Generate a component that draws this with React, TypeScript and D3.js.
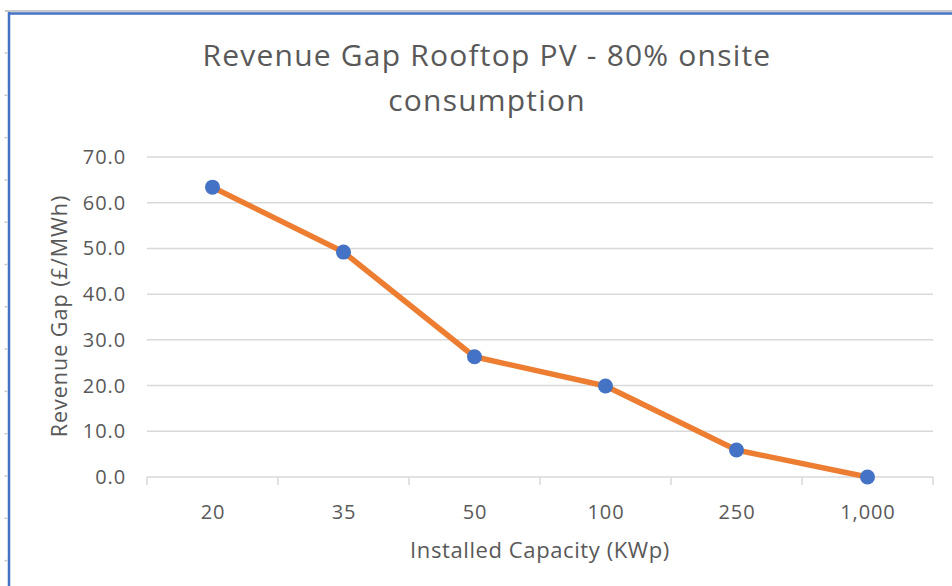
import React from "react";
import * as d3 from "d3";

const categories = ["20", "35", "50", "100", "250", "1,000"];
const revenueGap = [63.4, 49.2, 26.3, 19.9, 5.9, 0.0];
const yTicks = [0, 10, 20, 30, 40, 50, 60, 70];
const titleLines = ["Revenue Gap Rooftop PV - 80% onsite", "consumption"];
const xTitle = "Installed Capacity (KWp)";
const yTitle = "Revenue Gap (£/MWh)";

const W = 952;
const H = 586;
const FONT = "'Open Sans', 'Liberation Sans', sans-serif";
const TEXT = "#595959";

export default function App() {
  const x = d3.scaleBand<string>().domain(categories).range([147, 933]).padding(0);
  const y = d3.scaleLinear().domain([0, 70]).range([477, 157]);
  const cx = (i: number) => (x(categories[i]) as number) + x.bandwidth() / 2;
  const line = d3
    .line<number>()
    .x((_, i) => cx(i))
    .y((d) => y(d));

  const edgeTicks = d3.range(13).map((i) => 53 + i * 42.3);
  const boundaries = categories.map((c) => x(c) as number).concat([933]);

  return (
    <svg
      width={W}
      height={H}
      style={{ position: "fixed", left: 0, top: 0, background: "#fff" }}
      fontFamily={FONT}
    >
      <rect x={0} y={0} width={W} height={H} fill="#fff" />
      {/* window frame */}
      <line x1={5} x2={W} y1={11} y2={11} stroke="#c8c8c8" strokeWidth={2} />
      <line x1={8} x2={W} y1={13.5} y2={13.5} stroke="#4472C4" strokeWidth={2.5} />
      <line x1={9} x2={9} y1={12} y2={H} stroke="#4472C4" strokeWidth={2.5} />
      {edgeTicks.map((t, i) => (
        <line key={i} x1={4.5} x2={7.5} y1={t} y2={t} stroke="#c8c8c8" strokeWidth={1.5} />
      ))}

      {/* title */}
      {titleLines.map((t, i) => (
        <text
          key={i}
          x={487}
          y={66 + i * 45}
          textAnchor="middle"
          fontSize={30}
          letterSpacing={1.2}
          fill={TEXT}
        >
          {t}
        </text>
      ))}

      {/* gridlines */}
      {yTicks.map((t) => (
        <line
          key={t}
          x1={147}
          x2={933}
          y1={y(t)}
          y2={y(t)}
          stroke="#d9d9d9"
          strokeWidth={1.5}
        />
      ))}
      {/* category ticks */}
      {boundaries.map((b, i) => (
        <line key={i} x1={b} x2={b} y1={477} y2={485} stroke="#d9d9d9" strokeWidth={1.5} />
      ))}

      {/* y tick labels */}
      {yTicks.map((t) => (
        <text
          key={t}
          x={126}
          y={y(t) + 7}
          textAnchor="end"
          fontSize={20}
          fill={TEXT}
          letterSpacing={0.9}
        >
          {d3.format(".1f")(t)}
        </text>
      ))}

      {/* x tick labels */}
      {categories.map((c, i) => (
        <text
          key={c}
          x={cx(i) + 0.5}
          y={519}
          textAnchor="middle"
          fontSize={20}
          fill={TEXT}
          letterSpacing={0.9}
        >
          {c}
        </text>
      ))}

      {/* axis titles */}
      <text x={540} y={558} textAnchor="middle" fontSize={22} letterSpacing={0.6} fill={TEXT}>
        {xTitle}
      </text>
      <text
        transform={`translate(67,316) rotate(-90)`}
        textAnchor="middle"
        fontSize={21.5}
        letterSpacing={1.0}
        fill={TEXT}
      >
        {yTitle}
      </text>

      {/* series */}
      <path
        d={line(revenueGap) || ""}
        fill="none"
        stroke="#ED7D31"
        strokeWidth={5.5}
        strokeLinejoin="round"
        strokeLinecap="round"
      />
      {revenueGap.map((v, i) => (
        <circle key={i} cx={cx(i)} cy={y(v)} r={7.5} fill="#4472C4" />
      ))}
    </svg>
  );
}
